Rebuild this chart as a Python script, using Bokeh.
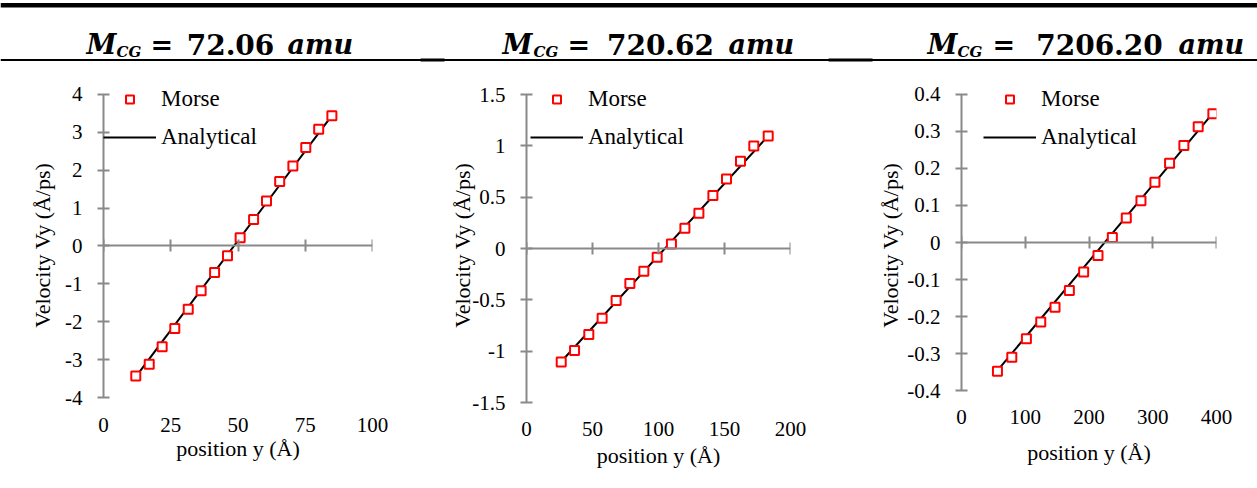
from bokeh.plotting import figure
from bokeh.layouts import row, column
from bokeh.models import Range1d, FixedTicker, LinearAxis, Legend, LegendItem
from bokeh.core.properties import value
from bokeh.embed import file_html
from bokeh.resources import INLINE

# ---------------- data ----------------
masses = ["72.06", "720.62", "7206.20"]

p1_pos = [12.0, 17.0, 21.8, 26.5, 31.5, 36.3, 41.3, 46.1, 50.8, 55.8, 60.6, 65.5, 70.4, 75.2, 80.0, 84.9]
p1_vel = [-3.43, -3.12, -2.66, -2.18, -1.67, -1.18, -0.70, -0.26, 0.22, 0.70, 1.19, 1.70, 2.11, 2.60, 3.08, 3.44]
p1_an_pos = [11.5, 85.5]
p1_an_vel = [-3.50, 3.50]

p2_pos = [26.3, 36.4, 47.2, 57.3, 67.9, 78.3, 88.9, 99.0, 109.8, 120.0, 130.6, 141.2, 151.5, 162.1, 172.2, 183.1]
p2_vel = [-1.105, -0.994, -0.838, -0.679, -0.507, -0.341, -0.221, -0.085, 0.045, 0.198, 0.344, 0.517, 0.676, 0.851, 0.998, 1.095]
p2_an_pos = [25.0, 184.0]
p2_an_vel = [-1.12, 1.11]

p3_pos = [56.4, 78.9, 101.8, 124.3, 146.7, 169.2, 191.6, 214.1, 236.6, 258.5, 281.5, 303.4, 326.4, 348.8, 371.3, 394.3]
p3_vel = [-0.348, -0.310, -0.260, -0.215, -0.175, -0.130, -0.080, -0.035, 0.0135, 0.066, 0.113, 0.163, 0.214, 0.262, 0.313, 0.348]
p3_an_pos = [54.0, 396.0]
p3_an_vel = [-0.351, 0.353]

p1_xticks = [0, 25, 50, 75, 100]
p1_xlabels = ["0", "25", "50", "75", "100"]
p1_yticks = [-4, -3, -2, -1, 0, 1, 2, 3, 4]
p1_ylabels = ["-4", "-3", "-2", "-1", "0", "1", "2", "3", "4"]

p2_xticks = [0, 50, 100, 150, 200]
p2_xlabels = ["0", "50", "100", "150", "200"]
p2_yticks = [-1.5, -1, -0.5, 0, 0.5, 1, 1.5]
p2_ylabels = ["-1.5", "-1", "-0.5", "0", "0.5", "1", "1.5"]

p3_xticks = [0, 100, 200, 300, 400]
p3_xlabels = ["0", "100", "200", "300", "400"]
p3_yticks = [-0.4, -0.3, -0.2, -0.1, 0, 0.1, 0.2, 0.3, 0.4]
p3_ylabels = ["-0.4", "-0.3", "-0.2", "-0.1", "0", "0.1", "0.2", "0.3", "0.4"]

x_title = "position y (Å)"
y_title = "Velocity Vy  (Å/ps)"
series_names = ["Morse", "Analytical"]

SERIF = "Liberation Serif"
AXIS_GRAY = "#898989"
TICK_FS = "21px"
LABEL_FS = "22px"
LEGEND_FS = "23px"

FIG_H = 420
BORDER_TOP = 14
BORDER_BOTTOM = 86


def make_panel(pos, vel, an_pos, an_vel, xr, yr, xticks, xlabels, yticks, ylabels,
               width, bl, br, ylab_standoff, xtick_standoff, xlab_standoff, leg_loc):
    p = figure(width=width, height=FIG_H, x_range=Range1d(*xr), y_range=Range1d(*yr),
               output_backend="svg", toolbar_location=None,
               x_axis_location=None, y_axis_location=None,
               min_border_left=bl, min_border_right=br,
               min_border_top=BORDER_TOP, min_border_bottom=BORDER_BOTTOM)
    p.outline_line_color = None
    p.grid.visible = False
    p.background_fill_color = "white"
    p.border_fill_color = "white"

    # y axis (at x = 0, the left edge), line limited to the tick span
    yax = LinearAxis(ticker=FixedTicker(ticks=yticks),
                     major_label_overrides=dict(zip(yticks, ylabels)),
                     axis_label=y_title, bounds=(yticks[0], yticks[-1]))
    yax.axis_line_color = AXIS_GRAY
    yax.axis_line_width = 2
    yax.major_tick_line_color = AXIS_GRAY
    yax.major_tick_line_width = 2
    yax.major_tick_in = 6
    yax.major_tick_out = 6
    yax.minor_tick_line_color = None
    yax.major_label_standoff = 15
    yax.major_label_text_font = SERIF
    yax.major_label_text_font_size = TICK_FS
    yax.major_label_text_color = "black"
    yax.axis_label_text_font = SERIF
    yax.axis_label_text_font_size = LABEL_FS
    yax.axis_label_text_font_style = "normal"
    yax.axis_label_text_color = "black"
    yax.axis_label_standoff = ylab_standoff
    p.add_layout(yax, "left")

    # x tick labels at the bottom of the plot
    xlab = LinearAxis(ticker=FixedTicker(ticks=xticks),
                      major_label_overrides=dict(zip(xticks, xlabels)),
                      axis_label=x_title)
    xlab.axis_line_color = None
    xlab.major_tick_line_color = None
    xlab.minor_tick_line_color = None
    xlab.major_tick_in = 0
    xlab.major_tick_out = 0
    xlab.major_label_standoff = xtick_standoff
    xlab.major_label_text_font = SERIF
    xlab.major_label_text_font_size = TICK_FS
    xlab.major_label_text_color = "black"
    xlab.axis_label_text_font = SERIF
    xlab.axis_label_text_font_size = LABEL_FS
    xlab.axis_label_text_font_style = "normal"
    xlab.axis_label_text_color = "black"
    xlab.axis_label_standoff = xlab_standoff
    p.add_layout(xlab, "below")

    # x axis line with cross ticks, at y = 0
    xfix = LinearAxis(ticker=FixedTicker(ticks=xticks), fixed_location=0)
    xfix.axis_line_color = AXIS_GRAY
    xfix.axis_line_width = 2
    xfix.major_tick_line_color = AXIS_GRAY
    xfix.major_tick_line_width = 2
    xfix.major_tick_in = 6
    xfix.major_tick_out = 6
    xfix.minor_tick_line_color = None
    xfix.major_label_standoff = 0
    xfix.major_label_text_font_size = "0px"
    xfix.major_label_text_color = None
    xfix.major_label_text_alpha = 0
    p.add_layout(xfix, "below")

    ln = p.line(an_pos, an_vel, line_color="black", line_width=2)
    sc = p.scatter(pos, vel, marker="square", size=9, line_color="#FF0000",
                   fill_color="white", line_width=2)

    leg = Legend(items=[LegendItem(label=series_names[0], renderers=[sc]),
                        LegendItem(label=series_names[1], renderers=[ln])],
                 location=leg_loc)
    leg.glyph_width = 53
    leg.glyph_height = 20
    leg.label_height = 20
    leg.label_standoff = 5
    leg.padding = 0
    leg.margin = 0
    leg.spacing = 12
    leg.border_line_color = None
    leg.background_fill_alpha = 0
    leg.label_text_font = SERIF
    leg.label_text_font_size = LEGEND_FS
    leg.label_text_color = "black"
    leg.label_text_baseline = "middle"
    p.add_layout(leg)
    return p


# plot frames are aligned across the row; the y ranges are padded so the
# tick positions land where the reference shows them
f1 = make_panel(p1_pos, p1_vel, p1_an_pos, p1_an_vel, (0, 100), (-4.132, 4.3168),
                p1_xticks, p1_xlabels, p1_yticks, p1_ylabels,
                width=445, bl=103, br=73, ylab_standoff=7, xtick_standoff=15, xlab_standoff=1,
                leg_loc=(0, 252))
f2 = make_panel(p2_pos, p2_vel, p2_an_pos, p2_an_vel, (0, 200), (-1.5, 1.617),
                p2_xticks, p2_xlabels, p2_yticks, p2_ylabels,
                width=425, bl=81, br=80, ylab_standoff=-6, xtick_standoff=19, xlab_standoff=4,
                leg_loc=(4, 252))
f3 = make_panel(p3_pos, p3_vel, p3_an_pos, p3_an_vel, (0, 400), (-0.4324, 0.4324),
                p3_xticks, p3_xlabels, p3_yticks, p3_ylabels,
                width=387, bl=91, br=41, ylab_standoff=1, xtick_standoff=7, xlab_standoff=13,
                leg_loc=(22, 252))

# ---------------- header with titles and rules ----------------
hdr = figure(width=1257, height=68, x_range=Range1d(0, 1257), y_range=Range1d(68, 0),
             output_backend="svg", toolbar_location=None,
             x_axis_location=None, y_axis_location=None, min_border=0)
hdr.outline_line_color = None
hdr.grid.visible = False
hdr.segment(x0=[0], y0=[4.8], x1=[1257], y1=[4.8], line_color="black", line_width=4.5)
hdr.segment(x0=[0], y0=[59.5], x1=[1257], y1=[59.5], line_color="black", line_width=2)
hdr.segment(x0=[828, 420], y0=[59.5, 59.5], x1=[872, 444], y1=[59.5, 59.5],
            line_color="black", line_width=3)

TFONT = value("DejaVu Serif")
BASE = 44
m_x = [86, 502, 927]
cg_x = [116, 533, 957]
eq_x = [150, 567, 992]
num_cx = [230, 660, 1099]
amu_x = [287, 728, 1178]
hdr.text(x=m_x, y=[BASE] * 3, text=["M"] * 3, text_font=TFONT, text_font_style="bold italic",
         text_font_size="27px", text_baseline="alphabetic", text_align="left", text_color="black")
hdr.text(x=cg_x, y=[BASE + 7.5] * 3, text=["CG"] * 3, text_font=TFONT, text_font_style="bold italic",
         text_font_size="15px", text_baseline="alphabetic", text_align="left", text_color="black")
hdr.text(x=eq_x, y=[BASE] * 3, text=["="] * 3, text_font=TFONT, text_font_style="bold",
         text_font_size="27px", text_baseline="alphabetic", text_align="left", text_color="black")
hdr.text(x=num_cx, y=[BASE] * 3, text=masses, text_font=TFONT, text_font_style="bold",
         text_font_size="28px", text_baseline="alphabetic", text_align="center", text_color="black")
hdr.text(x=amu_x, y=[BASE] * 3, text=["amu"] * 3, text_font=TFONT, text_font_style="bold italic",
         text_font_size="27px", text_baseline="alphabetic", text_align="left", text_color="black")

layout = column(hdr, row(f1, f2, f3, spacing=0), spacing=0)

open("out.html", "w").write(file_html(layout, INLINE))
